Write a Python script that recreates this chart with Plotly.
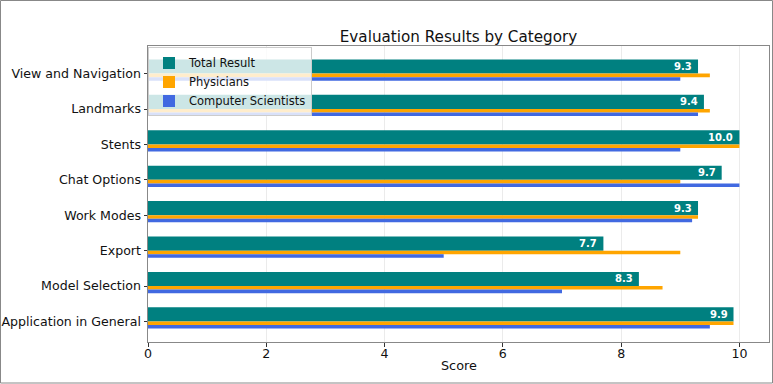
import plotly.graph_objects as go

categories = ["View and Navigation", "Landmarks", "Stents", "Chat Options",
              "Work Modes", "Export", "Model Selection", "Application in General"]
total_result = [9.3, 9.4, 10.0, 9.7, 9.3, 7.7, 8.3, 9.9]
physicians = [9.5, 9.5, 10.0, 9.0, 9.3, 9.0, 8.7, 9.9]
computer_scientists = [9.0, 9.3, 9.0, 10.0, 9.2, 5.0, 7.0, 9.5]
x_ticks = [0, 2, 4, 6, 8, 10]

W, H = 773, 384
ML, MR, MT, MB = 148, 4, 46, 42
FONT = "DejaVu Sans"

idx = list(range(len(categories)))

fig = go.Figure()
fig.add_trace(go.Bar(y=idx, x=total_result, orientation="h", name="Total Result",
                     width=0.4, offset=-0.4, marker=dict(color="#008080", line=dict(width=0))))
fig.add_trace(go.Bar(y=idx, x=physicians, orientation="h", name="Physicians",
                     width=0.1, offset=0.0, marker=dict(color="#FFA500", line=dict(width=0))))
fig.add_trace(go.Bar(y=idx, x=computer_scientists, orientation="h", name="Computer Scientists",
                     width=0.1, offset=0.1, marker=dict(color="#4169E1", line=dict(width=0))))

for i, v in zip(idx, total_result):
    fig.add_annotation(x=v, y=i - 0.2, xref="x", yref="y", text=f"{v:.1f}",
                       showarrow=False, xanchor="right", yanchor="middle", xshift=-4,
                       font=dict(family=FONT, size=10, color="white", weight="bold"))

pw = W - ML - MR
ph = H - MT - MB

# x-axis title placed below tick labels
fig.add_annotation(text="Score", xref="paper", yref="paper", x=0.5, y=-(365 - (H - MB)) / ph,
                   xanchor="center", yanchor="middle", showarrow=False,
                   font=dict(family=FONT, size=12.8, color="#111111"))

# figure frame
fig.add_shape(type="rect", xref="paper", yref="paper",
              x0=(0.5 - ML) / pw, x1=(W - 0.5 - ML) / pw,
              y0=(H - MB - (H - 1.0)) / ph, y1=(H - MB - 0.5) / ph,
              line=dict(color="#888888", width=1), fillcolor="rgba(0,0,0,0)", layer="above")

fig.update_layout(
    width=W, height=H,
    margin=dict(l=ML, r=MR, t=MT, b=MB, pad=0),
    paper_bgcolor="white", plot_bgcolor="white",
    barmode="overlay",
    font=dict(family=FONT, size=12.6, color="#111111"),
    title=dict(text="Evaluation Results by Category", x=0.5, xref="paper",
               y=1 - 37 / H, yref="container", yanchor="middle", xanchor="center",
               font=dict(family=FONT, size=15.2, color="#111111")),
    legend=dict(x=0.0, y=0.995, xanchor="left", yanchor="top",
                bgcolor="rgba(255,255,255,0.8)", bordercolor="#cccccc", borderwidth=1,
                font=dict(family=FONT, size=11.5, color="#111111"),
                tracegroupgap=0, itemwidth=30),
    xaxis=dict(range=[0, 10.5], tickvals=x_ticks, ticks="outside", ticklen=3.5,
               tickcolor="#333333", showgrid=True, gridcolor="#ebebeb", gridwidth=1,
               showline=True, linecolor="#888888", linewidth=1, mirror=True,
               zeroline=False, automargin=False, ticklabelstandoff=-4),
    yaxis=dict(range=[7.58, -0.78], tickvals=idx, ticktext=categories,
               ticks="outside", ticklen=3.5, tickcolor="#333333", showgrid=False,
               showline=True, linecolor="#888888", linewidth=1, mirror=True,
               zeroline=False, automargin=False),
)

fig.write_html("out.html")
